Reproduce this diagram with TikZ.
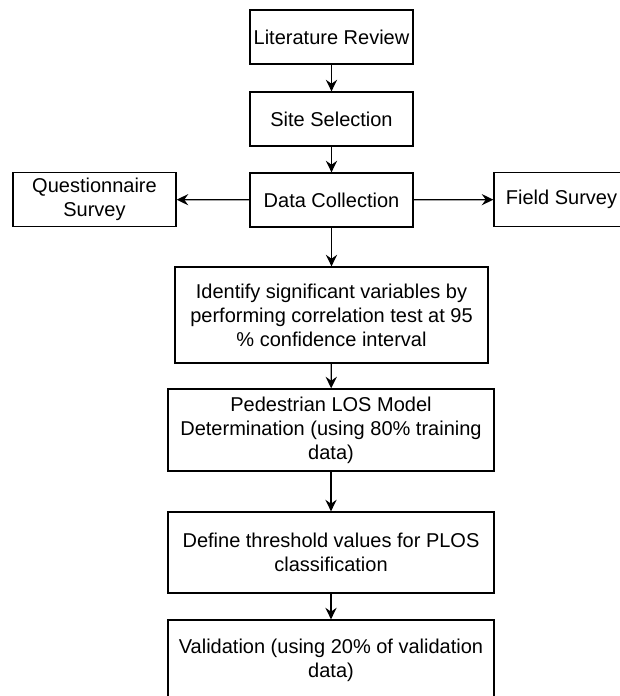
\documentclass[tikz,border=0pt]{standalone}
\usepackage{fontspec}
\setmainfont{Liberation Sans}
\usetikzlibrary{arrows.meta}
\begin{document}
\begin{tikzpicture}[x=0.5pt, y=-0.5pt, font=\fontsize{10pt}{12pt}\selectfont]
        \tikzstyle{stage}=[draw, line width=0.65pt, align=center, inner sep=0pt, minimum width=81.5pt, minimum height=27pt]
        \tikzstyle{wide}=[draw, line width=0.65pt, align=center, inner sep=0pt, minimum width=163pt, minimum height=40.5pt]
        \tikzstyle{flow}=[-{Stealth[length=5.8pt, width=5.6pt, inset=2pt]}, line width=0.65pt]

        \useasboundingbox (0,0) rectangle (620,696);
        \clip (0,0) rectangle (620,696);

        \node[stage] (S_1) at (331.5,37)  {Literature Review};
        \node[stage] (S_2) at (331.5,119)  {Site Selection};
        \node[stage] (S_3) at (331.5,200)  {Data Collection};
        \node[stage] (Q) at (94.5,199.5)  {Questionnaire\\Survey};
        \node[stage, minimum width=67.5pt] (F) at (561.5,199.5)  {Field Survey};
        \node[wide, minimum width=156.5pt, minimum height=48pt] (S_4) at (331.5,315)  {Identify significant variables by\\performing correlation test at 95\\\% confidence interval};
        \node[wide, minimum height=41pt] (S_5) at (331,430)  {Pedestrian LOS Model\\Determination (using 80\% training\\data)};
        \node[wide] (S_6) at (331,552.5)  {Define threshold values for PLOS\\classification};
        \node[wide] (S_7) at (331,660.5)  {Validation (using 20\% of validation\\data)};

        \draw[flow] (S_1) -- (S_2);
        \draw[flow] (S_2) -- (S_3);
        \draw[flow] (S_3) -- (Q);
        \draw[flow] (S_3) -- (F);
        \draw[flow] (S_3) -- (S_4);
        \draw[flow] (S_4) -- (S_5);
        \draw[flow] (S_5) -- (S_6);
        \draw[flow] (S_6) -- (S_7);
    \end{tikzpicture}
\end{document}
